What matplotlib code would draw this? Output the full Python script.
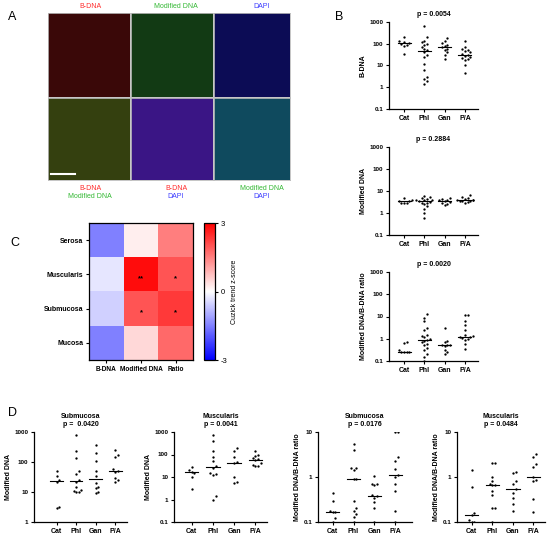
import numpy as np
import matplotlib
matplotlib.use("Agg")
import matplotlib.pyplot as plt

plt.rcParams['font.family'] = ['Liberation Sans', 'DejaVu Sans']
plt.rcParams['axes.unicode_minus'] = False

# ------------------------------------------------------------
# DATA
# ------------------------------------------------------------
groups = ['Cat', 'Phl', 'Gan', 'P/A']

# Panel B
b_bdna = [[200, 130, 120, 110, 100, 90, 80, 35],
          [650, 200, 140, 120, 100, 90, 70, 60, 50, 40, 30, 25, 12, 6, 3, 2.5, 2, 1.4],
          [190, 130, 110, 90, 80, 70, 60, 50, 40, 30, 20],
          [130, 70, 60, 50, 45, 40, 35, 30, 28, 25, 22, 20, 18, 10, 4.5]]
b_mod = [[5, 4, 3.5, 3.5, 3, 3, 2.8],
         [6, 5.5, 5, 4.5, 4, 4, 3.8, 3.5, 3.2, 3, 2.8, 2.5, 2, 1.5, 1, 0.6],
         [5, 4.5, 4, 3.8, 3.5, 3.2, 3, 2.5, 2.2],
         [6.5, 5.5, 5, 4.5, 4, 4, 3.8, 3.5, 3.5, 3.2, 3, 3.4]]
b_ratio = [[0.7, 0.65, 0.3, 0.25, 0.25, 0.25, 0.25],
           [13, 9, 6, 3, 2.5, 1.5, 1.3, 1.2, 1, 0.9, 0.8, 0.7, 0.6, 0.5, 0.4, 0.3, 0.2, 0.15, 0.1],
           [3, 0.8, 0.7, 0.55, 0.5, 0.5, 0.45, 0.3, 0.25, 0.2],
           [12, 12, 6, 4, 2.5, 1.5, 1.3, 1.2, 1.2, 1.1, 1, 0.9, 0.6, 0.35]]
b_pvals = ['p = 0.0054', 'p = 0.2884', 'p = 0.0020']

# Panel C (Cuzick trend z-scores)
layers = ['Serosa', 'Muscularis', 'Submucosa', 'Mucosa']
measures = ['B-DNA', 'Modified DNA', 'Ratio']
zscores = [[-1.5, 0.2, 1.5],
           [-0.3, 2.85, 2.0],
           [-0.55, 2.0, 2.3],
           [-1.5, 0.45, 1.75]]
stars = [['', '', ''],
         ['', '**', '*'],
         ['', '*', '*'],
         ['', '', '']]

# Panel D
d_sub_mod = [[50, 35, 25, 22, 3.2, 3],
             [800, 230, 140, 50, 40, 25, 22, 15, 12, 11, 10, 10],
             [380, 200, 110, 50, 35, 20, 15, 14, 10, 9],
             [260, 170, 150, 60, 50, 45, 30, 25, 22]]
d_mus_mod = [[28, 20, 17, 15, 10, 3],
             [750, 400, 150, 80, 50, 30, 25, 15, 14, 12, 1.5, 1],
             [200, 150, 80, 45, 40, 10, 6, 5.5],
             [150, 100, 90, 70, 60, 55, 40, 35, 30, 30]]
d_sub_ratio = [[0.45, 0.3, 0.18, 0.17, 0.17, 0.12, 0.1],
               [5.5, 4, 1.6, 1.6, 1.4, 0.9, 0.88, 0.3, 0.2, 0.18, 0.15, 0.13, 0.1],
               [1.05, 0.7, 0.7, 0.65, 0.4, 0.37, 0.35, 0.28, 0.2, 0.1],
               [10, 10, 2.8, 2.3, 1.5, 1.1, 1.0, 0.7, 0.5, 0.18, 0.1]]
d_mus_ratio = [[1.4, 0.6, 0.16, 0.14, 0.11, 0.1, 0.1],
               [2.1, 2.1, 1.0, 0.8, 0.7, 0.66, 0.65, 0.5, 0.4, 0.2, 0.2, 0.1],
               [1.3, 1.2, 0.8, 0.7, 0.55, 0.45, 0.35, 0.25, 0.18],
               [3.2, 2.8, 1.9, 1.7, 1.0, 0.85, 0.8, 0.33, 0.17]]
d_titles = ['Submucosa\np =  0.0420', 'Muscularis\np = 0.0041',
            'Submucosa\np = 0.0176', 'Muscularis\np = 0.0484']

W, H = 550, 538
fig = plt.figure(figsize=(W / 100, H / 100), dpi=100)


def box(x0, y0, x1, y1):
    # pixel box (top-left origin) -> figure fraction rect
    return [x0 / W, 1 - y1 / H, (x1 - x0) / W, (y1 - y0) / H]


def ftext(x, y, s, **kw):
    fig.text(x / W, 1 - y / H, s, **kw)


def swarm_offsets(vals, dx, dy, max_k=3):
    # simple deterministic beeswarm in log space
    logs = np.log10(np.asarray(vals, float))
    offs = np.zeros(len(logs))
    placed = []
    for i in np.argsort(logs):
        y = logs[i]
        chosen = 0.0
        for k in range(30):
            cands = [0.0] if k == 0 else [k * dx, -k * dx]
            hit = None
            for c in cands:
                if all(abs(c - px) >= dx * 0.99 or abs(y - py) >= dy for px, py in placed):
                    hit = c
                    break
            if hit is not None:
                chosen = hit
                break
        # keep the swarm compact, like the original
        chosen = float(np.clip(chosen, -max_k * dx, max_k * dx))
        offs[i] = chosen
        placed.append((chosen, y))
    return offs


def dot_plot(ax, data, ylim, xlim, ylabel, title, dy):
    for gi, vals in enumerate(data):
        offs = swarm_offsets(vals, 0.13, dy)
        ax.scatter(gi + offs, vals, s=2.8, color='black', zorder=3, linewidths=0)
        med = np.median(vals)
        ax.plot([gi - 0.32, gi + 0.32], [med, med], color='black', lw=0.8, zorder=2)
    ax.set_yscale('log')
    ax.set_ylim(*ylim)
    ax.set_xlim(*xlim)
    ax.set_xticks(range(len(groups)))
    ax.set_xticklabels(groups, fontsize=5, fontweight='bold')
    decades = 10.0 ** np.arange(np.log10(ylim[0]), np.log10(ylim[1]) + 0.5)
    ax.set_yticks(decades)
    ax.set_yticklabels(['%g' % d for d in decades], fontsize=4.5, fontweight='bold')
    ax.yaxis.set_minor_locator(matplotlib.ticker.NullLocator())
    for s in ['top', 'right']:
        ax.spines[s].set_visible(False)
    for s in ['left', 'bottom']:
        ax.spines[s].set_linewidth(0.9)
    ax.tick_params(length=2.5, width=0.8, pad=1.5)
    ax.set_ylabel(ylabel, fontsize=5, fontweight='bold', labelpad=2)
    ax.set_title(title, fontsize=5, fontweight='bold', pad=4, linespacing=1.3)


# ------------------------------------------------------------
# PANEL A  (micrograph placeholders)
# ------------------------------------------------------------
cols = [(48, 130), (131, 213), (214, 290)]
rows = [(13, 97), (98, 180)]
tile_colors = [['#3a0808', '#123a14', '#0c0c55'],
               ['#34400f', '#3a1585', '#0f4a5e']]
for r, (y0, y1) in enumerate(rows):
    for c, (x0, x1) in enumerate(cols):
        ax = fig.add_axes(box(x0, y0, x1, y1))
        ax.set_facecolor(tile_colors[r][c])
        ax.set_xticks([])
        ax.set_yticks([])
        for s in ax.spines.values():
            s.set_color('#bbbbbb')
            s.set_linewidth(0.6)
        if r == 1 and c == 0:
            ax.plot([0.04, 0.33], [0.07, 0.07], color='white', lw=1.5,
                    transform=ax.transAxes)

red, green, blue = '#ff2a2a', '#33b833', '#3a3aff'
ftext(90, 6, 'B-DNA', color=red, fontsize=5, ha='center', va='center')
ftext(176, 6, 'Modified DNA', color=green, fontsize=5, ha='center', va='center')
ftext(262, 6, 'DAPI', color=blue, fontsize=5, ha='center', va='center')
ftext(90, 188, 'B-DNA', color=red, fontsize=5, ha='center', va='center')
ftext(90, 197, 'Modified DNA', color=green, fontsize=5, ha='center', va='center')
ftext(176, 188, 'B-DNA', color=red, fontsize=5, ha='center', va='center')
ftext(176, 197, 'DAPI', color=blue, fontsize=5, ha='center', va='center')
ftext(262, 188, 'Modified DNA', color=green, fontsize=5, ha='center', va='center')
ftext(262, 197, 'DAPI', color=blue, fontsize=5, ha='center', va='center')

# ------------------------------------------------------------
# PANEL B
# ------------------------------------------------------------
b_boxes = [(389, 22, 478, 109), (389, 147, 478, 235), (389, 272, 478, 361)]
b_data = [b_bdna, b_mod, b_ratio]
b_labels = ['B-DNA', 'Modified DNA', 'Modified DNA/B-DNA ratio']
for bb, data, lab, pv in zip(b_boxes, b_data, b_labels, b_pvals):
    ax = fig.add_axes(box(*bb))
    dot_plot(ax, data, (0.1, 1000), (-0.74, 3.64), lab, pv, dy=0.17)

# ------------------------------------------------------------
# PANEL C  heatmap
# ------------------------------------------------------------
axc = fig.add_axes(box(89, 223, 193, 360))
im = axc.imshow(np.array(zscores), cmap='bwr', vmin=-3, vmax=3, aspect='auto')
for i in range(len(layers)):
    for j in range(len(measures)):
        if stars[i][j]:
            axc.text(j, i + 0.12, stars[i][j], ha='center', va='center',
                     fontsize=5.5, fontweight='bold', color='black')
axc.set_xticks(range(len(measures)))
axc.set_xticklabels(measures, fontsize=4.7, fontweight='bold')
axc.set_yticks(range(len(layers)))
axc.set_yticklabels(layers, fontsize=5, fontweight='bold')
axc.tick_params(length=2.5, width=0.8, pad=1.5)
for s in axc.spines.values():
    s.set_linewidth(0.9)

cax = fig.add_axes(box(204, 223, 215, 360))
cb = fig.colorbar(im, cax=cax, ticks=[-3, 0, 3])
cb.ax.tick_params(labelsize=5.5, length=2.5, width=0.8, pad=1.5)
cb.outline.set_linewidth(0.9)
cb.set_label('Cuzick trend z-score', fontsize=5, labelpad=3)

# ------------------------------------------------------------
# PANEL D
# ------------------------------------------------------------
d_boxes = [(34, 432, 127, 522), (174, 432, 267, 522),
           (318, 432, 412, 522), (457, 432, 545, 522)]
d_data = [d_sub_mod, d_mus_mod, d_sub_ratio, d_mus_ratio]
d_ylims = [(1, 1000), (0.1, 1000), (0.1, 10), (0.1, 10)]
d_xlims = [(-1.15, 3.6), (-0.83, 3.55), (-0.7, 3.8), (-0.72, 3.56)]
d_labels = ['Modified DNA', 'Modified DNA',
            'Modified DNA/B-DNA ratio', 'Modified DNA/B-DNA ratio']
for bb, data, yl, xl, lab, tt in zip(d_boxes, d_data, d_ylims, d_xlims, d_labels, d_titles):
    ax = fig.add_axes(box(*bb))
    ndec = np.log10(yl[1]) - np.log10(yl[0])
    dot_plot(ax, data, yl, xl, lab, tt, dy=4.0 * ndec / 90)

# panel letters
for letter, (x, y) in zip('ABCD', [(8, 17), (335, 17), (10, 243), (8, 413)]):
    ftext(x, y, letter, fontsize=9, ha='left', va='center')

fig.savefig('out.png', dpi=100)
